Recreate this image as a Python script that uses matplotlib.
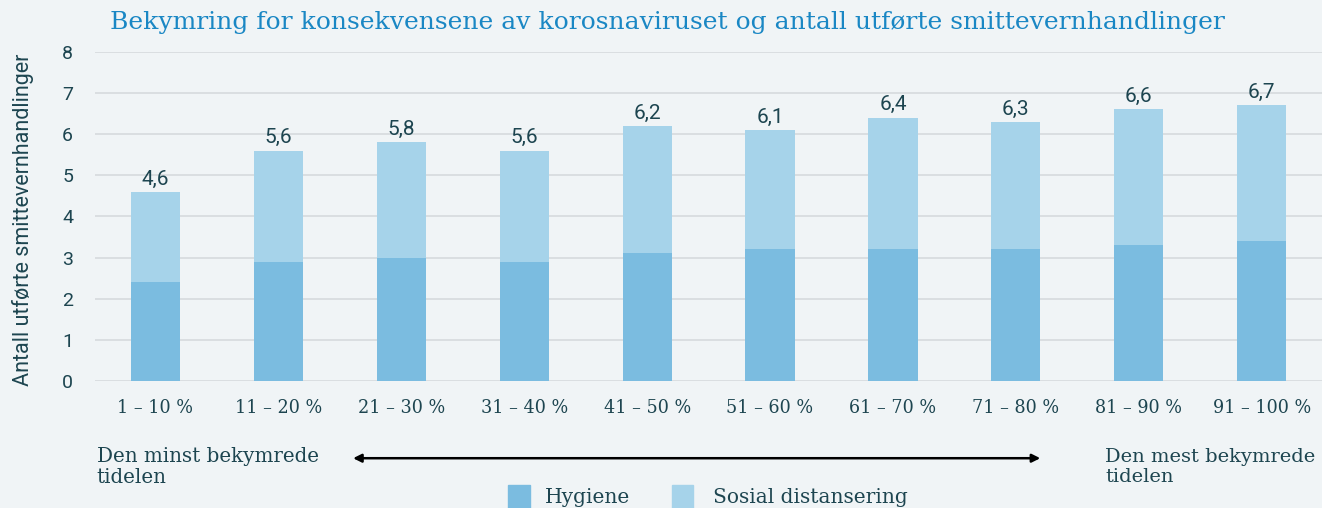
import matplotlib.pyplot as plt
import numpy as np
from matplotlib.patches import Rectangle

# data
kategorier = ["1 – 10 %", "11 – 20 %", "21 – 30 %", "31 – 40 %", "41 – 50 %",
              "51 – 60 %", "61 – 70 %", "71 – 80 %", "81 – 90 %", "91 – 100 %"]
totalt = [4.6, 5.6, 5.8, 5.6, 6.2, 6.1, 6.4, 6.3, 6.6, 6.7]
hygiene = [2.4, 2.9, 3.0, 2.9, 3.1, 3.2, 3.2, 3.2, 3.3, 3.4]
sosial = [t - h for t, h in zip(totalt, hygiene)]
etiketter = ["4,6", "5,6", "5,8", "5,6", "6,2", "6,1", "6,4", "6,3", "6,6", "6,7"]

bg = "#f0f4f6"
tekst = "#1d4550"
farge_hyg = "#7bbce0"
farge_sos = "#a6d3ea"

plt.rcParams['font.family'] = ['DejaVu Serif']

fig = plt.figure(figsize=(13.22, 5.08), dpi=100, facecolor=bg)
ax = fig.add_axes([0.072, 0.25, 0.928, 0.648], facecolor=bg)

x = np.arange(len(kategorier))
ax.bar(x, hygiene, width=0.4, color=farge_hyg, zorder=3)
ax.bar(x, sosial, width=0.4, bottom=hygiene, color=farge_sos, zorder=3)
for xi, t, lab in zip(x, totalt, etiketter):
    ax.text(xi, t + 0.08, lab, ha="center", va="bottom", fontsize=15, color=tekst,
            family="Roboto")

ax.set_ylim(0, 8)
ax.set_xlim(-0.49, 9.49)
ax.set_yticks(range(9))
ax.yaxis.grid(True, color="#d8dcdf", linewidth=1.3, zorder=0)
ax.set_xticks(x)
ax.set_xticklabels(kategorier, fontsize=14, color=tekst, fontstretch="condensed")
ax.tick_params(axis="y", labelsize=14, labelcolor=tekst, length=0, pad=16)
ax.tick_params(axis="x", length=0, pad=13)
for lab in ax.get_yticklabels():
    lab.set_family("Roboto")
for s in ax.spines.values():
    s.set_visible(False)
ax.set_ylabel("Antall utførte smittevernhandlinger", fontsize=15.5, color=tekst,
              family="Roboto")
ax.yaxis.set_label_coords(-0.05, 0.49)

fig.text(0.505, 0.955, "Bekymring for konsekvensene av korosnaviruset og antall utførte smittevernhandlinger",
         ha="center", va="center", fontsize=18, color="#1a87c4")

# piler og forklaring under aksen
fig.text(0.073, 0.08, "Den minst bekymrede\ntidelen", fontsize=14.3, color=tekst,
         va="center", ha="left", linespacing=1.15)
fig.text(0.836, 0.08, "Den mest bekymrede\ntidelen", fontsize=14, color=tekst,
         va="center", ha="left", linespacing=1.15)
ax.annotate("", xy=(0.265, 0.098), xytext=(0.789, 0.098), xycoords="figure fraction",
            arrowprops=dict(arrowstyle="<|-|>", color="black", lw=1.8, mutation_scale=12))

# legende
fig.patches.append(Rectangle((0.384, -0.01), 0.017, 0.055, transform=fig.transFigure,
                             color=farge_hyg))
fig.text(0.412, 0.02, "Hygiene", fontsize=14.5, color=tekst, va="center")
fig.patches.append(Rectangle((0.508, -0.01), 0.016, 0.055, transform=fig.transFigure,
                             color=farge_sos))
fig.text(0.539, 0.02, "Sosial distansering", fontsize=14.5, color=tekst, va="center")

fig.savefig("out.png", dpi=100, facecolor=bg)
